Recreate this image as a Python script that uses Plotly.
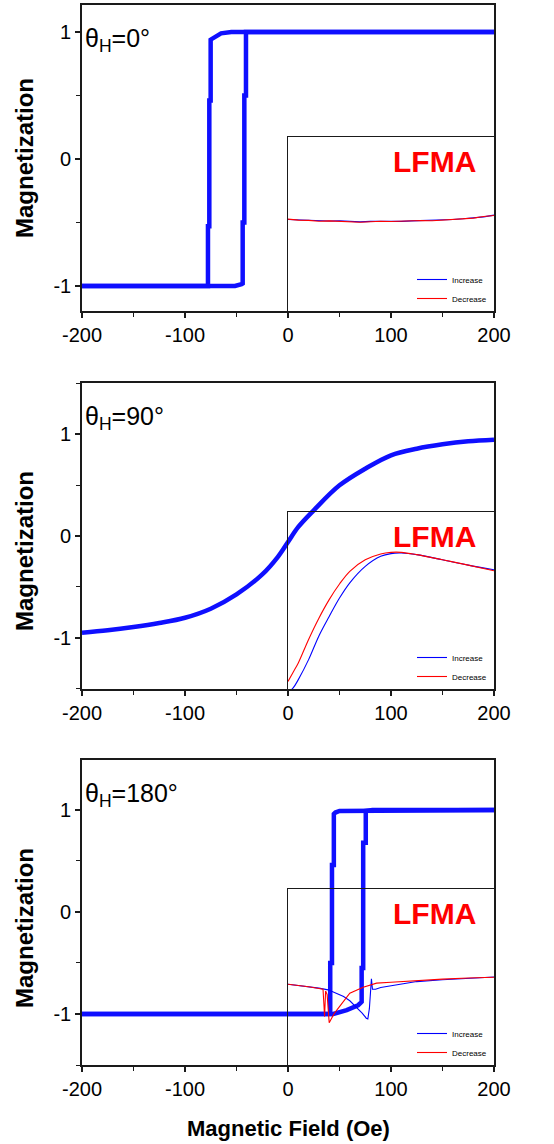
import plotly.graph_objects as go

W, H = 554, 1144

# ---------------- data ----------------
# Panel 1: theta_H = 0 deg (M-H loop)
h1_inc = [-200, -51.5, -45, -44, -44, -42.4, -42.4, -40.8, -40.8, 200]
m1_inc = [-1, -1, -0.985, -0.98, -0.5, -0.5, 0.5, 0.5, 1, 1]
h1_dec = [200, -55, -65, -72, -75.1, -75.1, -76.4, -76.4, -77.7, -77.7, -200]
m1_dec = [1, 1, 0.99, 0.96, 0.94, 0.46, 0.46, -0.53, -0.53, -1, -1]

# Panel 2: theta_H = 90 deg
h2 = [-200, -175, -150, -125, -100, -75, -50, -25, -10, 0, 10, 25, 50, 75, 100, 125, 150, 175, 200]
m2 = [-0.952, -0.929, -0.897, -0.857, -0.805, -0.716, -0.575, -0.378, -0.207, -0.059,
      0.089, 0.253, 0.499, 0.663, 0.795, 0.860, 0.903, 0.933, 0.949]

# Panel 3: theta_H = 180 deg
h3_inc = [-200, 44, 57, 65, 68, 70.5, 71.5, 71.5, 73, 73, 75.5, 75.5, 82, 200]
m3_inc = [-1, -1, -0.962, -0.935, -0.914, -0.89, -0.88, -0.55, -0.55, 0.68, 0.68, 0.99, 1, 1]
h3_dec = [200, 80, 50, 46, 44.5, 44.5, 42.7, 42.7, 41, 41, -200]
m3_dec = [1, 1, 0.99, 0.975, 0.96, 0.46, 0.46, -0.5, -0.5, -1, -1]

# LFMA insets (relative signal, 0..1 of inset height)
l1_h = [0, 10, 20, 30, 40, 50, 60, 70, 80, 90, 100, 110, 120, 130, 140, 150, 160, 170, 180, 190, 200]
l1_inc = [0.526, 0.524, 0.520, 0.518, 0.517, 0.519, 0.515, 0.512, 0.515, 0.514, 0.516, 0.515,
          0.518, 0.519, 0.520, 0.522, 0.526, 0.530, 0.535, 0.541, 0.551]
l1_dec = [0.528, 0.522, 0.521, 0.516, 0.518, 0.516, 0.514, 0.510, 0.513, 0.516, 0.514, 0.517,
          0.516, 0.520, 0.519, 0.523, 0.524, 0.532, 0.534, 0.543, 0.549]

l2_h = [0, 5, 10, 20, 30, 40, 50, 60, 75, 90, 100, 110, 125, 150, 175, 200]
l2_inc = [-0.02, 0.006, 0.053, 0.166, 0.30, 0.41, 0.514, 0.60, 0.693, 0.75, 0.765, 0.768,
          0.759, 0.73, 0.70, 0.674]
l2_dec = [0.043, 0.095, 0.147, 0.28, 0.40, 0.505, 0.593, 0.665, 0.73, 0.763, 0.772, 0.772,
          0.759, 0.73, 0.70, 0.668]

l3_h_inc = [0, 10, 20, 30, 39, 45, 54, 60, 68, 72, 76, 77.5, 79, 80, 81, 82, 85, 90, 100, 125, 150, 175, 200]
l3_inc = [0.459, 0.452, 0.445, 0.437, 0.427, 0.41, 0.389, 0.365, 0.32, 0.295, 0.266, 0.262,
          0.32, 0.41, 0.49, 0.43, 0.43, 0.44, 0.45, 0.474, 0.484, 0.493, 0.50]
l3_h_dec = [0, 10, 20, 30, 34, 35, 35.5, 36.5, 38, 40, 45, 50, 60, 73, 86, 100, 125, 150, 175, 200]
l3_dec = [0.459, 0.453, 0.445, 0.435, 0.43, 0.33, 0.275, 0.42, 0.40, 0.24, 0.294, 0.332,
          0.408, 0.442, 0.465, 0.47, 0.48, 0.488, 0.494, 0.499]

x_tickvals = [-200, -100, 0, 100, 200]
x_ticktext = ["-200", "-100", "0", "100", "200"]
y_tickvals = [-1, 0, 1]
y_ticktext = ["-1", "0", "1"]
angle_labels = ["θ<sub>H</sub>=0°", "θ<sub>H</sub>=90°", "θ<sub>H</sub>=180°"]
legend_names = ["Increase", "Decrease"]

# ---------------- layout helpers ----------------
def px_x(p):
    return p / W

def px_y(p):
    return 1 - p / H

FONT = "Arial, Liberation Sans, sans-serif"
BLUE_THICK = "rgb(15,15,255)"
BLUE = "rgb(0,0,255)"
RED = "rgb(255,0,0)"

panels = [  # (top px, bottom px, y-range, inset top px)
    (5, 311, [-1.197, 1.213], 137),
    (383, 689, [-1.507, 1.507], 512),
    (760, 1065, [-1.5, 1.49], 889),
]
x_left, x_right, x_zero = 82, 494, 288

fig = go.Figure()

main_data = [
    [(h1_inc, m1_inc), (h1_dec, m1_dec)],
    [(h2, m2)],
    [(h3_inc, m3_inc), (h3_dec, m3_dec)],
]
lfma_data = [
    [(l1_h, l1_inc), (l1_h, l1_dec)],
    [(l2_h, l2_inc), (l2_h, l2_dec)],
    [(l3_h_inc, l3_inc), (l3_h_dec, l3_dec)],
]
smooth = [False, True, False]

for i in range(3):
    k = "" if i == 0 else str(i + 1)
    ik = str(i + 4)
    shape = "spline" if smooth[i] else "linear"
    for hx, my in main_data[i]:
        fig.add_trace(go.Scatter(x=hx, y=my, mode="lines", xaxis="x" + k, yaxis="y" + k,
                                 line=dict(color=BLUE_THICK, width=4.5, shape=shape),
                                 showlegend=False, hoverinfo="skip"))
    leg = "legend" if i == 0 else "legend" + str(i + 1)
    for (hx, ly), name, col in zip(lfma_data[i], legend_names, [BLUE, RED]):
        fig.add_trace(go.Scatter(x=hx, y=ly, mode="lines", xaxis="x" + ik, yaxis="y" + ik,
                                 line=dict(color=col, width=1.1, shape=shape),
                                 name=name, legend=leg))

layout = dict(
    width=W, height=H,
    margin=dict(l=0, r=0, t=0, b=0, autoexpand=False),
    paper_bgcolor="white", plot_bgcolor="rgba(0,0,0,0)",
    font=dict(family=FONT, color="black"),
    annotations=[], showlegend=True,
)

axis_common = dict(showline=True, mirror=True, linecolor="#1a1a1a", linewidth=1.6,
                   showgrid=False, zeroline=False, automargin=False)

for i, (top, bot, yr, itop) in enumerate(panels):
    k = "" if i == 0 else str(i + 1)
    ik = str(i + 4)
    layout["xaxis" + k] = dict(
        axis_common, domain=[px_x(x_left), px_x(x_right)], range=[-200, 200],
        anchor="y" + k, tickmode="array", tickvals=x_tickvals, ticktext=x_ticktext,
        ticks="outside", ticklen=5, tickwidth=1.5, tickcolor="#1a1a1a",
        tickfont=dict(size=20, family=FONT),
        minor=dict(ticks="outside", ticklen=4, tickwidth=1.2, dtick=50, tick0=0, tickcolor="#1a1a1a"),
    )
    layout["yaxis" + k] = dict(
        axis_common, domain=[px_y(bot), px_y(top)], range=yr, anchor="x" + k,
        tickmode="array", tickvals=y_tickvals, ticktext=y_ticktext,
        ticks="outside", ticklen=5, tickwidth=1.5, tickcolor="#1a1a1a",
        tickfont=dict(size=20, family=FONT),
        minor=dict(ticks="outside", ticklen=4, tickwidth=1.2, dtick=0.5, tick0=0, tickcolor="#1a1a1a"),
    )
    layout["xaxis" + ik] = dict(
        axis_common, linewidth=1.4, domain=[px_x(x_zero), px_x(x_right)], range=[0, 200],
        anchor="y" + ik, showticklabels=False, ticks="",
    )
    layout["yaxis" + ik] = dict(
        axis_common, linewidth=1.4, domain=[px_y(bot), px_y(itop)], range=[0, 1],
        anchor="x" + ik, showticklabels=False, ticks="",
    )
    leg = "legend" if i == 0 else "legend" + str(i + 1)
    layout[leg] = dict(x=px_x(492), y=px_y(bot + 2), xanchor="right", yanchor="bottom",
                       bgcolor="rgba(0,0,0,0)", borderwidth=0, font=dict(size=8, family=FONT),
                       itemwidth=30, tracegroupgap=0)

    # theta label
    layout["annotations"].append(dict(
        text=angle_labels[i], xref="paper", yref="paper", x=px_x(83), y=px_y(top + 35),
        xanchor="left", yanchor="middle", showarrow=False, font=dict(size=25, family=FONT)))
    # LFMA label
    layout["annotations"].append(dict(
        text="<b>LFMA</b>", xref="paper", yref="paper", x=px_x(435), y=px_y(itop + 24),
        xanchor="center", yanchor="middle", showarrow=False,
        font=dict(size=30, family=FONT, color=RED)))
    # y-axis title
    ycen = [158, 551, 928][i]
    layout["annotations"].append(dict(
        text="<b>Magnetization</b>", xref="paper", yref="paper", x=px_x(24), y=px_y(ycen),
        xanchor="center", yanchor="middle", textangle=-90, showarrow=False,
        font=dict(size=24, family=FONT)))

layout["annotations"].append(dict(
    text="<b>Magnetic Field (Oe)</b>", xref="paper", yref="paper", x=px_x(288), y=px_y(1128),
    xanchor="center", yanchor="middle", showarrow=False, font=dict(size=22, family=FONT)))

fig.update_layout(**layout)
fig.write_html("out.html", config={"displayModeBar": False},
               post_script="document.body.style.margin='0';")
